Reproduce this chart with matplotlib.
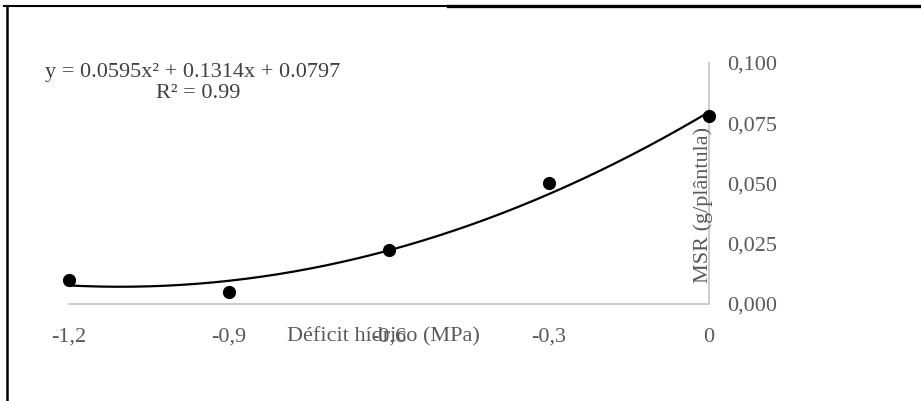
import numpy as np
import matplotlib.pyplot as plt
from matplotlib.lines import Line2D

# deficit hidrico (MPa) and MSR (g/plantula)
deficit = [-1.2, -0.9, -0.6, -0.3, 0.0]
msr = [0.010, 0.005, 0.0224, 0.050, 0.078]

# quadratic trendline coefficients (a, b, c)
coef = [0.0595, 0.1314, 0.0797]
r2 = 0.99

xticks = [-1.2, -0.9, -0.6, -0.3, 0.0]
xlabels = ['-1,2', '-0,9', '-0,6', '-0,3', '0']
yticks = [0.0, 0.025, 0.05, 0.075, 0.1]
ylabels = ['0,000', '0,025', '0,050', '0,075', '0,100']

plt.rcParams['font.family'] = ['Liberation Serif', 'DejaVu Serif']

fig = plt.figure(figsize=(9.21, 4.01), dpi=100)
ax = fig.add_axes([0.0749, 0.2419, 0.695, 0.601])

xs = np.linspace(-1.2, 0, 200)
ax.plot(xs, np.polyval(coef, xs), color='black', lw=1.6, zorder=2)
ax.plot(deficit, msr, 'o', color='black', markersize=8.5, zorder=3, clip_on=False)

ax.set_xlim(-1.2, 0)
ax.set_ylim(0, 0.1)
ax.set_xticks(xticks, xlabels)
ax.set_yticks(yticks, ylabels)
ax.yaxis.tick_right()
ax.tick_params(axis='both', length=0, labelsize=16, labelcolor='#595959')
ax.tick_params(axis='x', pad=17)
ax.tick_params(axis='y', pad=13)

for s in ['top', 'left']:
    ax.spines[s].set_visible(False)
for s in ['bottom', 'right']:
    ax.spines[s].set_color('#c8c8c8')
    ax.spines[s].set_linewidth(1.3)

# axis titles sit inside the plot area, over the tick labels
ax.text(-0.61, -0.0137, 'Déficit hídrico (MPa)', fontsize=16, color='#595959',
        ha='center', va='center', clip_on=False)
ax.text(-0.012, 0.041, 'MSR (g/plântula)', fontsize=16, color='#595959',
        rotation=90, ha='center', va='center')

eq = 'y = %.4fx² + %.4fx + %.4f' % tuple(coef)
fig.text(45 / 921, 1 - 72 / 401, eq, fontsize=16, color='#404040', va='center', ha='left')
fig.text(156 / 921, 1 - 94 / 401, 'R² = %.2f' % r2, fontsize=16, color='#404040',
         va='center', ha='left')

# frame lines around the figure
fig.add_artist(Line2D([4 / 921, 448 / 921], [1 - 6 / 401] * 2, color='black', lw=1.5))
fig.add_artist(Line2D([448 / 921, 1], [1 - 6 / 401] * 2, color='black', lw=2.4))
fig.add_artist(Line2D([6.5 / 921] * 2, [0, 1 - 6 / 401], color='black', lw=1.8))

fig.savefig('out.png', dpi=100)
